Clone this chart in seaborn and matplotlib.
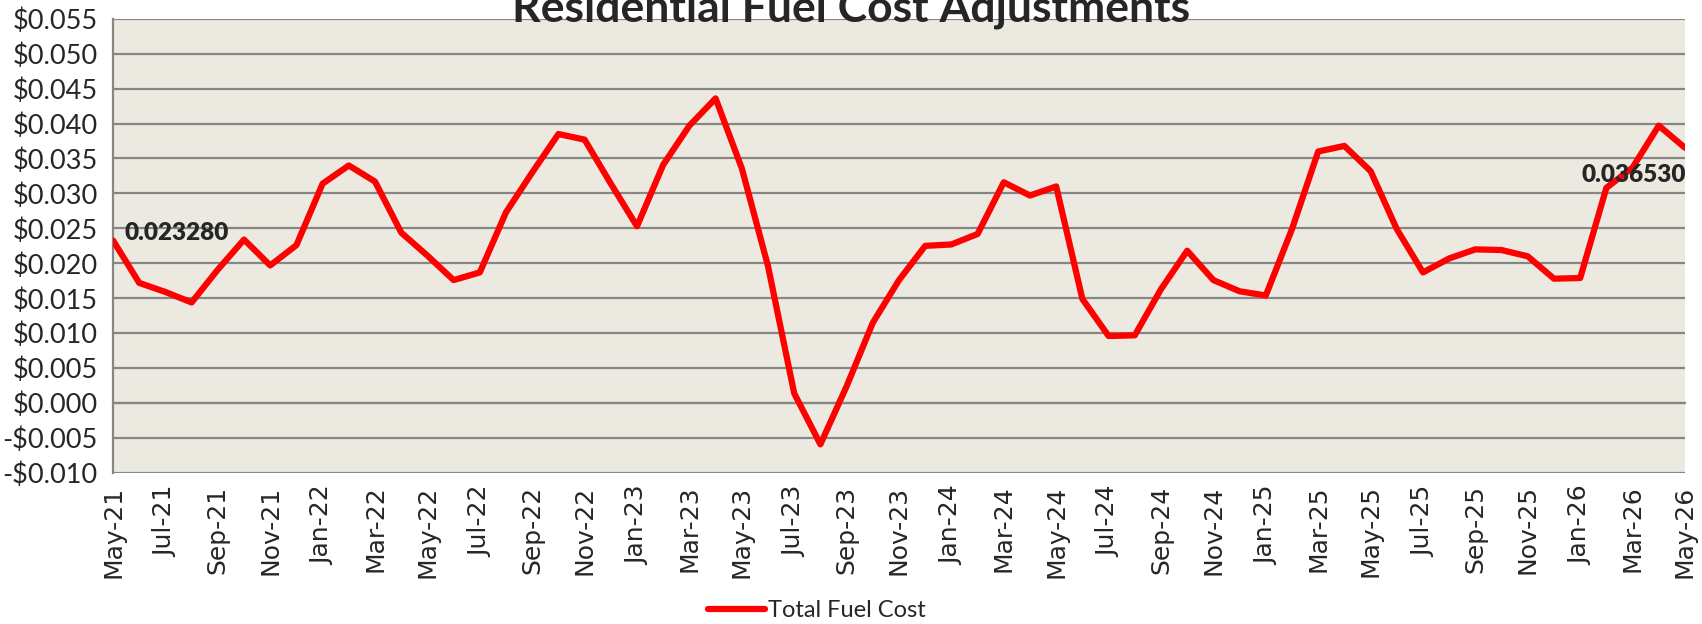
import numpy as np
import pandas as pd
import matplotlib
matplotlib.use('Agg')
import matplotlib.pyplot as plt
import seaborn as sns

# Monthly residential fuel cost adjustment ($/kWh), May-21 .. May-26
months = pd.date_range('2021-05-01', '2026-05-01', freq='MS')
month_labels = [d.strftime('%b-%y') for d in months]
fuel_cost = [
    0.023280, 0.0172, 0.0159, 0.0144, 0.0191, 0.0234, 0.0197, 0.0226,
    0.0314, 0.0340, 0.0317, 0.0244, 0.0211, 0.0176, 0.0187, 0.0273,
    0.0330, 0.0385, 0.0377, 0.0314, 0.0253, 0.0341, 0.0397, 0.0436,
    0.0336, 0.0196, 0.0014, -0.0059, 0.0024, 0.0115, 0.0176, 0.0225,
    0.0227, 0.0242, 0.0316, 0.0297, 0.0310, 0.0149, 0.0096, 0.0097,
    0.0163, 0.0218, 0.0176, 0.0160, 0.0154, 0.0249, 0.0360, 0.0368,
    0.0332, 0.0249, 0.0187, 0.0207, 0.0220, 0.0219, 0.0210, 0.0178,
    0.0179, 0.0308, 0.0337, 0.0397, 0.036530,
]
series_name = 'Total Fuel Cost'
y_ticks = np.arange(-0.010, 0.0551, 0.005)

df = pd.DataFrame({'idx': np.arange(len(fuel_cost)), 'value': fuel_cost,
                   'series': series_name})

sns.set_style('white')
plt.rcParams['font.family'] = ['Lato', 'DejaVu Sans']

fig = plt.figure(figsize=(17.02, 6.24), dpi=100)
ax = fig.add_axes([0.0664, 0.242, 0.9236, 0.728])
ax.set_facecolor('#ECEAE0')

grid_c = '#868686'
sns.lineplot(data=df, x='idx', y='value', hue='series', palette=['#FF0000'],
             lw=4.5, ax=ax, legend=False, zorder=3)

ax.set_xlim(0, len(fuel_cost) - 1)
ax.set_ylim(-0.010, 0.055)
ax.set_yticks(y_ticks)
ax.set_yticklabels([('-$%.3f' % abs(v)) if v < -1e-9 else '$%.3f' % abs(v)
                    for v in y_ticks], fontsize=19.5)
ax.yaxis.grid(True, color=grid_c, lw=1.6)
ax.tick_params(axis='y', direction='out', length=7, width=1.6, color=grid_c, pad=4)

# x axis crosses at zero: ticks there, labels at the bottom
ax.spines['bottom'].set_position(('data', 0))
ax.spines['bottom'].set_color(grid_c)
ax.spines['bottom'].set_linewidth(1.6)
ax.spines['left'].set_color(grid_c)
ax.spines['left'].set_linewidth(1.6)
for s in ['top', 'right']:
    ax.spines[s].set_visible(False)
major_idx = np.arange(0, len(fuel_cost), 2)
ax.set_xticks(major_idx)
ax.set_xticks(np.arange(len(fuel_cost)), minor=True)
ax.tick_params(axis='x', which='major', direction='inout', length=17, width=1.3,
               color=grid_c, labelbottom=False)
ax.tick_params(axis='x', which='minor', direction='out', length=6, width=1.3,
               color=grid_c)
ax.set_xlabel('')
ax.set_ylabel('')

sec = ax.secondary_xaxis('bottom')
sec.set_xticks(major_idx)
sec.set_xticklabels([month_labels[i] for i in major_idx], rotation=90,
                    fontsize=18, family='DejaVu Sans')
sec.tick_params(length=0, pad=9)
sec.spines['bottom'].set_visible(False)

# data labels for first and last values
ax.annotate('%.6f' % fuel_cost[0], (0, fuel_cost[0]), xytext=(11, 7),
            textcoords='offset pixels', ha='left', va='center',
            fontsize=17.5, fontweight='heavy', zorder=4)
ax.annotate('%.6f' % fuel_cost[-1], (len(fuel_cost) - 1, fuel_cost[-1]),
            xytext=(1, -27), textcoords='offset pixels', ha='right', va='center',
            fontsize=17.5, fontweight='heavy', zorder=4, annotation_clip=False)

fig.text(0.5, 0.966, 'Residential Fuel Cost Adjustments', ha='center',
         va='baseline', fontsize=32, fontweight='bold')

handle = plt.Line2D([], [], color='#FF0000', lw=4.5, solid_capstyle='round')
fig.legend([handle], [series_name], loc='center', bbox_to_anchor=(0.48, 0.022),
           frameon=False, fontsize=17, handlelength=2.4, handletextpad=0.15)

fig.savefig('out.png', dpi=100, facecolor='white')
